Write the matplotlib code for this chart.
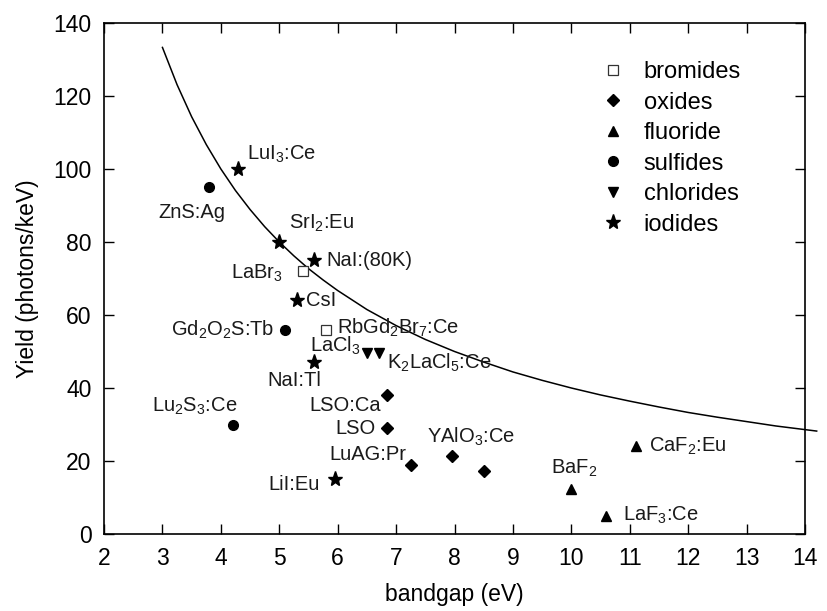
import matplotlib.pyplot as plt

plt.rcParams['font.family'] = ['Liberation Sans', 'DejaVu Sans']
plt.rcParams['mathtext.fontset'] = 'custom'
plt.rcParams['mathtext.rm'] = 'Liberation Sans'
plt.rcParams['mathtext.default'] = 'regular'

# scintillator groups: bandgap (eV), light yield (photons/keV)
bromide_names = ['LaBr$_3$', 'RbGd$_2$Br$_7$:Ce']
bromide_gap = [5.4, 5.8]
bromide_yield = [72, 56]

oxide_names = ['LSO:Ca', 'LSO', 'LuAG:Pr', 'YAlO$_3$:Ce', '']
oxide_gap = [6.85, 6.85, 7.25, 7.95, 8.5]
oxide_yield = [38, 29, 19, 21.5, 17.3]

fluoride_names = ['BaF$_2$', 'LaF$_3$:Ce', 'CaF$_2$:Eu']
fluoride_gap = [10.0, 10.6, 11.1]
fluoride_yield = [12.4, 4.8, 24.2]

sulfide_names = ['ZnS:Ag', 'Gd$_2$O$_2$S:Tb', 'Lu$_2$S$_3$:Ce']
sulfide_gap = [3.8, 5.1, 4.2]
sulfide_yield = [95, 56, 30]

chloride_names = ['LaCl$_3$', 'K$_2$LaCl$_5$:Ce']
chloride_gap = [6.5, 6.7]
chloride_yield = [49.5, 49.5]

iodide_names = ['LuI$_3$:Ce', 'SrI$_2$:Eu', 'NaI:(80K)', 'CsI', 'NaI:Tl', 'LiI:Eu']
iodide_gap = [4.3, 5.0, 5.6, 5.3, 5.6, 5.95]
iodide_yield = [100, 80, 75, 64, 47, 15]

# theoretical limit curve
limit_gap = [3.0, 3.25, 3.5, 3.75, 4.0, 4.25, 4.5, 4.75, 5.0, 5.25, 5.5, 5.75,
             6.0, 6.5, 7.0, 7.5, 8.0, 8.5, 9.0, 9.5, 10.0, 10.5, 11.0, 11.5,
             12.0, 12.5, 13.0, 13.5, 14.0, 14.2]
limit_yield = [133.3, 123.1, 114.3, 106.7, 100.0, 94.1, 88.9, 84.2, 80.0, 76.2,
               72.7, 69.6, 66.7, 61.5, 57.1, 53.3, 50.0, 47.1, 44.4, 42.1, 40.0,
               38.1, 36.4, 34.8, 33.3, 32.0, 30.8, 29.6, 28.6, 28.2]

# label placement: (x, y, ha) for each point label
label_pos = {
    'LaBr$_3$': (5.07, 71.5, 'right'),
    'RbGd$_2$Br$_7$:Ce': (5.98, 56.5, 'left'),
    'LSO:Ca': (6.74, 35.2, 'right'),
    'LSO': (6.65, 29, 'right'),
    'LuAG:Pr': (7.17, 21.7, 'right'),
    'YAlO$_3$:Ce': (7.53, 26.5, 'left'),
    'BaF$_2$': (9.65, 18, 'left'),
    'LaF$_3$:Ce': (10.88, 5, 'left'),
    'CaF$_2$:Eu': (11.33, 24, 'left'),
    'ZnS:Ag': (3.5, 88, 'center'),
    'Gd$_2$O$_2$S:Tb': (4.92, 55.8, 'right'),
    'Lu$_2$S$_3$:Ce': (3.55, 35, 'center'),
    'LaCl$_3$': (5.53, 51.5, 'left'),
    'K$_2$LaCl$_5$:Ce': (6.85, 47, 'left'),
    'LuI$_3$:Ce': (4.45, 104, 'left'),
    'SrI$_2$:Eu': (5.17, 85, 'left'),
    'NaI:(80K)': (5.8, 75, 'left'),
    'CsI': (5.45, 64, 'left'),
    'NaI:Tl': (5.25, 42, 'center'),
    'LiI:Eu': (5.7, 13.5, 'right'),
}

groups = [
    ('bromides', bromide_names, bromide_gap, bromide_yield,
     dict(marker='s', ms=7.5, mfc='white', mec='#333333', mew=0.9)),
    ('oxides', oxide_names, oxide_gap, oxide_yield,
     dict(marker='D', ms=6.2, color='black')),
    ('fluoride', fluoride_names, fluoride_gap, fluoride_yield,
     dict(marker='^', ms=7.5, color='black')),
    ('sulfides', sulfide_names, sulfide_gap, sulfide_yield,
     dict(marker='o', ms=7, color='black')),
    ('chlorides', chloride_names, chloride_gap, chloride_yield,
     dict(marker='v', ms=7.5, color='black')),
    ('iodides', iodide_names, iodide_gap, iodide_yield,
     dict(marker='*', ms=11, color='black')),
]

fig = plt.figure(figsize=(8.27, 6.11), dpi=100)
ax = fig.add_axes([0.1258, 0.126, 0.8476, 0.8364])

ax.plot(limit_gap, limit_yield, color='black', lw=1.1, clip_on=False, zorder=2)

for label, names, gaps, yields, style in groups:
    ax.plot(gaps, yields, ls='none', label=label, zorder=3, **style)
    for name in names:
        if not name:
            continue
        x, y, ha = label_pos[name]
        ax.text(x, y, name, ha=ha, va='center', fontsize=14.5, color='#1a1a1a')

ax.set_xlim(2, 14)
ax.set_ylim(0, 140)
ax.set_xticks(range(2, 15))
ax.set_yticks(range(0, 141, 20))
ax.tick_params(direction='in', top=True, right=True, length=7, width=1.0,
               labelsize=16.5, pad=9)
for spine in ax.spines.values():
    spine.set_linewidth(1.2)

ax.set_xlabel('bandgap (eV)', fontsize=16.5, labelpad=10)
ax.set_ylabel('Yield (photons/keV)', fontsize=16.5, labelpad=10)

ax.legend(loc='upper left', bbox_to_anchor=(0.696, 0.944), frameon=False,
          fontsize=17, markerscale=1.0, handlelength=1.0, handletextpad=0.8,
          labelspacing=0.36, borderaxespad=0)

fig.savefig('out.png', dpi=100)
